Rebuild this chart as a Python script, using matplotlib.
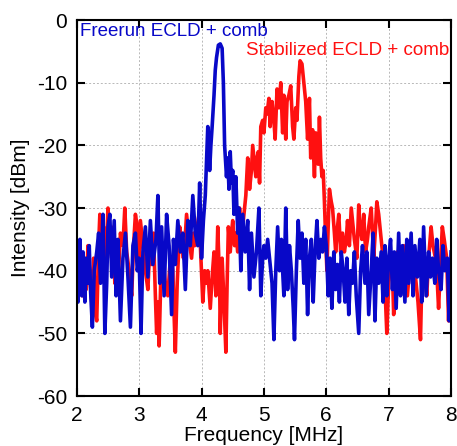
import matplotlib
matplotlib.use('Agg')
import matplotlib.pyplot as plt

# values
red_x = [2.00, 2.03, 2.06, 2.09, 2.12, 2.15, 2.18, 2.21, 2.24, 2.27, 2.30, 2.32, 2.35, 2.37, 2.40,
         2.43, 2.46, 2.50, 2.53, 2.56, 2.59, 2.61, 2.64, 2.67, 2.70, 2.74, 2.77, 2.80, 2.84, 2.88,
         2.91, 2.94, 2.97, 3.00, 3.02, 3.06, 3.10, 3.14, 3.17, 3.20, 3.23, 3.26, 3.28, 3.30, 3.32,
         3.35, 3.38, 3.42, 3.46, 3.50, 3.54, 3.56, 3.58, 3.61, 3.65, 3.68, 3.71, 3.73, 3.76, 3.80,
         3.84, 3.87, 3.89, 3.93, 3.96, 3.99, 4.02, 4.05, 4.08, 4.10, 4.14, 4.17, 4.20, 4.23, 4.26,
         4.29, 4.30, 4.33, 4.36, 4.39, 4.41, 4.43, 4.46, 4.48, 4.50, 4.53, 4.55, 4.58, 4.61, 4.63,
         4.66, 4.69, 4.71, 4.74, 4.77, 4.80, 4.82, 4.85, 4.87, 4.89, 4.91, 4.93, 4.95, 4.98, 5.00,
         5.03, 5.05, 5.08, 5.10, 5.13, 5.16, 5.18, 5.21, 5.24, 5.27, 5.30, 5.32, 5.35, 5.37, 5.40,
         5.43, 5.46, 5.48, 5.51, 5.53, 5.56, 5.58, 5.61, 5.64, 5.67, 5.70, 5.73, 5.75, 5.78, 5.81,
         5.83, 5.85, 5.87, 5.89, 5.91, 5.93, 5.95, 5.97, 5.99, 6.01, 6.03, 6.05, 6.08, 6.10, 6.13,
         6.15, 6.18, 6.20, 6.23, 6.26, 6.29, 6.32, 6.34, 6.37, 6.40, 6.43, 6.45, 6.49, 6.52, 6.54,
         6.57, 6.60, 6.63, 6.66, 6.68, 6.72, 6.76, 6.79, 6.81, 6.84, 6.87, 6.90, 6.92, 6.95, 6.97,
         7.00, 7.03, 7.06, 7.08, 7.11, 7.14, 7.17, 7.19, 7.22, 7.24, 7.27, 7.30, 7.34, 7.38, 7.40,
         7.43, 7.47, 7.51, 7.53, 7.56, 7.58, 7.61, 7.64, 7.68, 7.71, 7.75, 7.78, 7.80, 7.83, 7.86,
         7.89, 7.93, 7.96, 7.98, 8.00]
red_y = [-36, -40, -37, -44, -38, -43, -36, -41, -45, -38, -47, -48, -36, -31, -37,
         -33, -40, -30, -35, -38, -33, -42, -36, -40, -34, -36, -30, -37, -40, -44,
         -36, -31, -33, -38, -32, -36, -40, -43, -36, -39, -34, -44, -50, -45, -52,
         -40, -38, -42, -44, -38, -40, -47, -53, -42, -33, -36, -38, -36, -31, -35,
         -38, -34, -36, -33, -31, -38, -45, -40, -42, -40, -46, -41, -37, -44, -33,
         -42, -50, -38, -45, -53, -42, -33, -37, -34, -32, -36, -34, -37, -30, -34,
         -33, -30, -28, -22, -27, -24, -20, -23, -25, -22, -21, -26, -17, -16, -18,
         -14, -15, -12.5, -17, -13, -16, -19, -11, -14, -10, -18, -12, -19, -13, -12,
         -10.5, -17, -19, -14, -16, -9, -6.5, -7, -10, -13, -19, -12.5, -22, -17.5, -25,
         -18, -21, -23, -15.5, -22, -25, -24, -29, -35, -40, -33, -27, -29, -30, -34,
         -37, -33, -31, -37, -34, -37, -35, -32, -36, -30, -33, -35, -38, -29.5, -33,
         -35, -31, -37, -35, -33, -30, -38, -33, -29, -31, -34, -37, -40, -45, -50,
         -42, -37, -40, -47, -41, -37, -40, -42, -38, -36, -40, -44, -39, -37, -39,
         -41, -45, -51, -42, -38, -40, -44, -38, -33, -36, -38, -42, -46, -39, -33,
         -35, -38, -48, -42, -46]

blue_x = [2.00, 2.02, 2.05, 2.08, 2.10, 2.13, 2.15, 2.18, 2.20, 2.22, 2.25, 2.28, 2.32, 2.35, 2.38,
          2.42, 2.45, 2.48, 2.50, 2.53, 2.56, 2.60, 2.63, 2.66, 2.70, 2.74, 2.78, 2.82, 2.86, 2.90,
          2.94, 2.97, 3.00, 3.03, 3.06, 3.10, 3.14, 3.18, 3.22, 3.27, 3.30, 3.33, 3.36, 3.40, 3.44,
          3.48, 3.52, 3.55, 3.58, 3.62, 3.66, 3.70, 3.74, 3.78, 3.82, 3.86, 3.90, 3.94, 3.97, 4.00,
          4.03, 4.06, 4.10, 4.13, 4.15, 4.17, 4.20, 4.22, 4.24, 4.27, 4.30, 4.33, 4.35, 4.37, 4.40,
          4.42, 4.44, 4.46, 4.48, 4.50, 4.52, 4.55, 4.58, 4.60, 4.63, 4.66, 4.70, 4.74, 4.77, 4.80,
          4.84, 4.88, 4.92, 4.95, 4.98, 5.00, 5.03, 5.06, 5.09, 5.13, 5.16, 5.19, 5.22, 5.25, 5.28,
          5.30, 5.32, 5.35, 5.38, 5.41, 5.44, 5.47, 5.49, 5.52, 5.55, 5.58, 5.61, 5.64, 5.67, 5.70,
          5.73, 5.76, 5.79, 5.82, 5.85, 5.88, 5.91, 5.94, 5.97, 6.00, 6.03, 6.06, 6.09, 6.12, 6.15,
          6.18, 6.21, 6.24, 6.27, 6.30, 6.33, 6.36, 6.39, 6.42, 6.45, 6.48, 6.52, 6.55, 6.58, 6.62,
          6.65, 6.68, 6.72, 6.75, 6.78, 6.81, 6.84, 6.88, 6.91, 6.94, 6.97, 7.00, 7.03, 7.06, 7.09,
          7.12, 7.16, 7.19, 7.22, 7.26, 7.29, 7.32, 7.36, 7.39, 7.42, 7.46, 7.50, 7.53, 7.56, 7.60,
          7.64, 7.67, 7.70, 7.74, 7.77, 7.80, 7.84, 7.87, 7.90, 7.94, 7.97, 8.00]
blue_y = [-36, -45, -35, -44, -37, -45, -38, -42, -36, -43, -49, -40, -37, -34, -42,
          -31, -50, -42, -33, -31, -41, -32, -44, -35, -48, -38, -34, -41, -49, -36,
          -34, -40, -38, -50, -37, -33, -41, -32, -39, -35, -28, -42, -33, -44, -31,
          -36, -47, -35, -39, -32, -37, -34, -43, -32, -36, -28, -34, -36, -26, -38,
          -32, -28, -17, -24, -20, -17, -12, -8, -6, -4, -3.8, -4.5, -10, -20, -25,
          -22, -27, -21, -26, -24, -31, -25, -34, -30, -40, -31, -37, -32, -43, -34,
          -41, -37, -30, -44, -38, -36, -38, -35, -38, -42, -51, -40, -33, -40, -35,
          -40, -44, -30, -43, -36, -40, -46, -51, -40, -32, -38, -34, -42, -35, -47,
          -38, -35, -45, -37, -32, -38, -35, -37, -33, -36, -44, -38, -46, -37, -43,
          -39, -45, -37, -40, -45, -38, -47, -40, -42, -37, -44, -50, -40, -36, -42,
          -37, -47, -40, -34, -48, -38, -42, -37, -45, -36, -44, -38, -35, -43, -37,
          -46, -34, -44, -36, -45, -35, -42, -34, -44, -36, -41, -35, -45, -33, -44,
          -37, -41, -38, -42, -35, -40, -43, -36, -40, -38, -48, -37]

plt.rcParams['font.family'] = ['Liberation Sans', 'DejaVu Sans']
plt.rcParams['axes.unicode_minus'] = False

fig = plt.figure(figsize=(4.57, 4.46), dpi=100)
ax = fig.add_axes([0.168, 0.112, 0.819, 0.843])

ax.plot(red_x, red_y, color='#ff1010', lw=2.6)
ax.plot(blue_x, blue_y, color='#0808c8', lw=2.6)

ax.text(2.05, -1.9, 'Freerun ECLD + comb', color='#0808c8', fontsize=13.5, ha='left', va='center')
ax.text(4.72, -4.9, 'Stabilized ECLD + comb', color='#ff1010', fontsize=13.5, ha='left', va='center')

ax.set_xlim(2, 8)
ax.set_ylim(-60, 0)
ax.set_xticks(range(2, 9))
ax.set_yticks(range(-60, 1, 10))
ax.grid(True, color='#b8b8b8', linestyle=(0, (2, 2)), linewidth=0.7)
ax.tick_params(direction='in', length=6, width=1.5, labelsize=15, top=True, right=True, pad=7)
for s in ax.spines.values():
    s.set_linewidth(1.5)

ax.set_xlabel('Frequency [MHz]', fontsize=15, labelpad=1)
ax.set_ylabel('Intensity [dBm]', fontsize=15, labelpad=5)

fig.savefig('out.png', dpi=100)
